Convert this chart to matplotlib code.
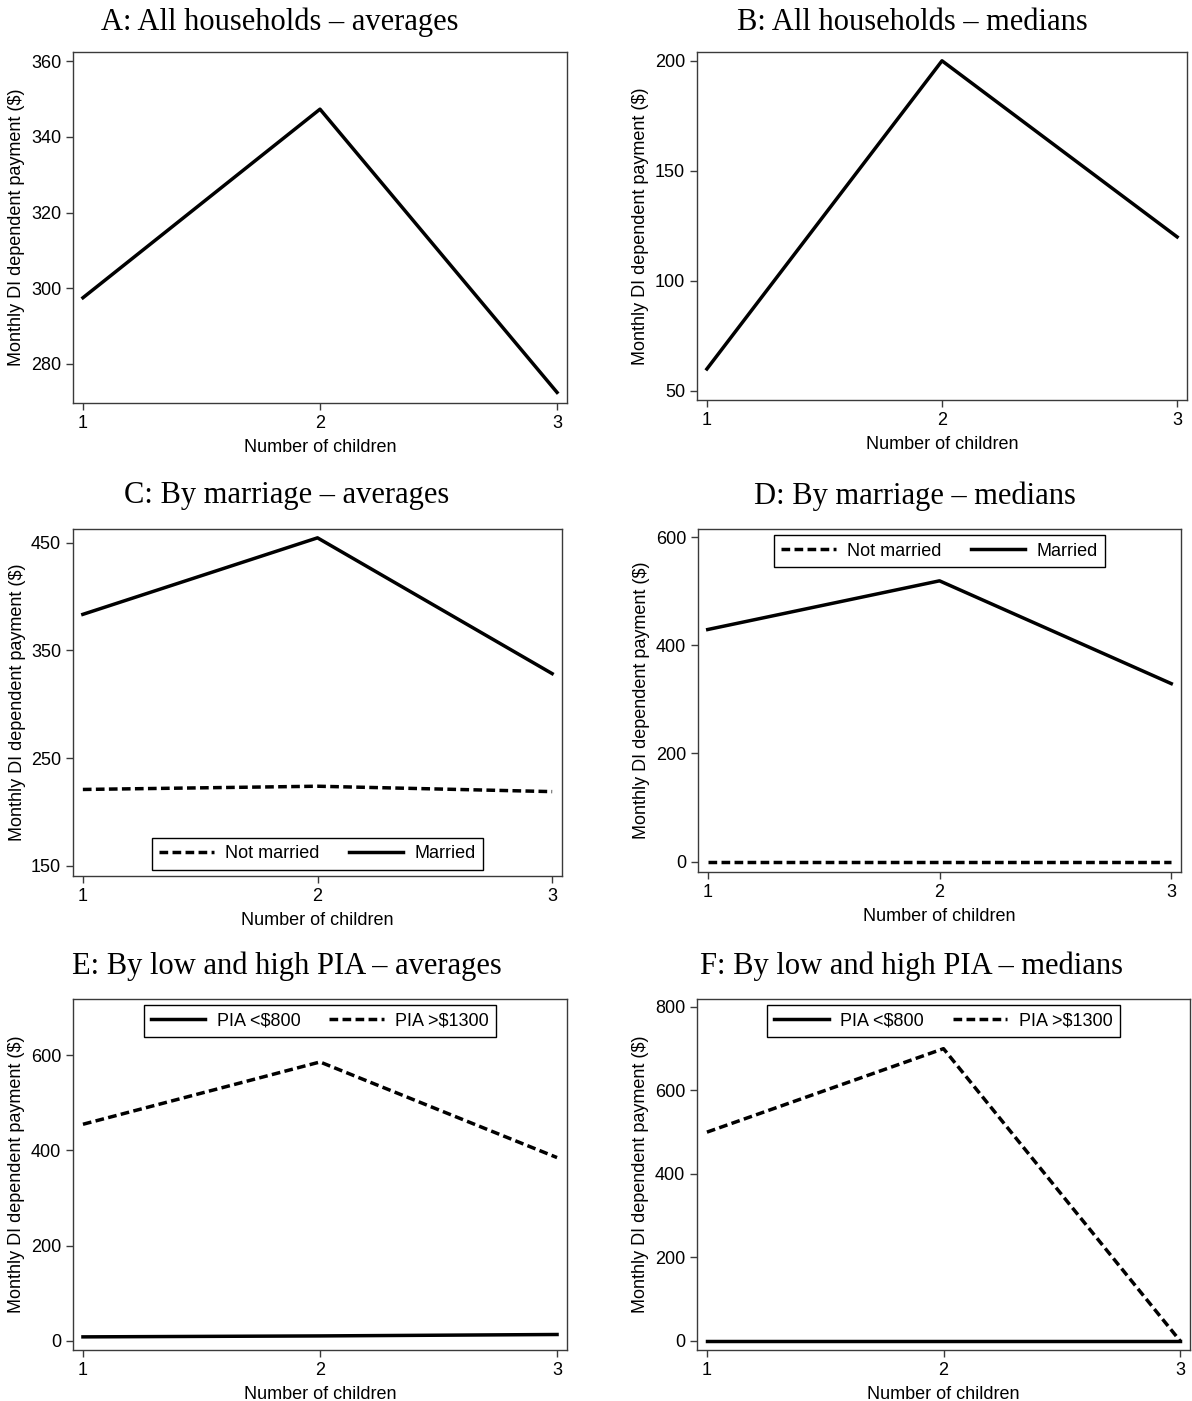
import matplotlib
matplotlib.use("Agg")
import matplotlib.pyplot as plt

children = [1, 2, 3]

all_avg = [297.5, 347.3, 272.5]
all_med = [60, 200, 120]

notmarried_avg = [221, 224, 219]
married_avg = [383.5, 454.5, 328.5]
notmarried_med = [0, 0, 0]
married_med = [429, 519, 329]

pia_low_avg = [8, 10, 13]
pia_high_avg = [455, 586, 385]
pia_low_med = [0, 0, 0]
pia_high_med = [500, 700, 0]

W, H = 1192, 1401
fig = plt.figure(figsize=(W / 100, H / 100), dpi=100)

SERIF = "Liberation Serif"
SANS = "Liberation Sans"
FS = 13
TFS = 22
LW = 2.5
DASH = (2.5, 1.25)
FRAME = "#3a3a3a"


def make_axes(left, right, top, bottom):
    ax = fig.add_axes([left / W, 1 - bottom / H, (right - left) / W, (bottom - top) / H])
    for s in ax.spines.values():
        s.set_color(FRAME)
        s.set_linewidth(1.0)
    ax.tick_params(direction="out", length=5, width=1, color=FRAME, labelsize=FS,
                   top=False, right=False)
    ax.set_xticks(children)
    ax.set_xticklabels([str(c) for c in children], fontfamily=SANS, fontsize=FS)
    ax.set_xlabel("Number of children", fontfamily=SANS, fontsize=FS, labelpad=5)
    ax.set_ylabel("Monthly DI dependent payment ($)", fontfamily=SANS, fontsize=FS, labelpad=4)
    ax.set_xlim(0.958, 3.042)
    return ax


def set_y(ax, lo, hi, ticks):
    ax.set_ylim(lo, hi)
    ax.set_yticks(ticks)
    ax.set_yticklabels([str(t) for t in ticks], fontfamily=SANS, fontsize=FS)


def legend(ax, loc):
    leg = ax.legend(loc=loc, ncol=2, frameon=True, fancybox=False, framealpha=1,
                    edgecolor="black", handlelength=3.0, columnspacing=1.6,
                    borderaxespad=0.35, borderpad=0.4, handletextpad=0.65,
                    prop={"family": SANS, "size": FS})
    leg.get_frame().set_linewidth(1.0)


def title(x, y, text):
    fig.text(x / W, 1 - y / H, text, family=SERIF, fontsize=TFS, ha="center", va="center")


# A
ax = make_axes(73, 567, 52, 403)
ax.plot(children, all_avg, color="black", lw=LW)
set_y(ax, 269.7, 362.4, [280, 300, 320, 340, 360])
title(280, 22, "A: All households – averages")

# B
ax = make_axes(697, 1187, 52, 400)
ax.plot(children, all_med, color="black", lw=LW)
set_y(ax, 45.9, 204, [50, 100, 150, 200])
title(912, 22, "B: All households – medians")

# C
ax = make_axes(73, 562, 529, 876)
ax.plot(children, notmarried_avg, color="black", lw=LW, dashes=DASH, label="Not married")
ax.plot(children, married_avg, color="black", lw=LW, label="Married")
set_y(ax, 140.7, 462.7, [150, 250, 350, 450])
legend(ax, "lower center")
title(287, 496, "C: By marriage – averages")

# D
ax = make_axes(698, 1181, 529, 872)
ax.plot(children, notmarried_med, color="black", lw=LW, dashes=DASH, label="Not married")
ax.plot(children, married_med, color="black", lw=LW, label="Married")
set_y(ax, -19.2, 614.8, [0, 200, 400, 600])
legend(ax, "upper center")
title(915, 496, "D: By marriage – medians")

# E
ax = make_axes(73, 567, 999, 1350)
ax.plot(children, pia_low_avg, color="black", lw=LW, label="PIA <$800")
ax.plot(children, pia_high_avg, color="black", lw=LW, dashes=DASH, label="PIA >$1300")
set_y(ax, -19.6, 718.4, [0, 200, 400, 600])
legend(ax, "upper center")
title(287, 966, "E: By low and high PIA – averages")

# F
ax = make_axes(697, 1190, 999, 1350)
ax.plot(children, pia_low_med, color="black", lw=LW, label="PIA <$800")
ax.plot(children, pia_high_med, color="black", lw=LW, dashes=DASH, label="PIA >$1300")
set_y(ax, -22, 819, [0, 200, 400, 600, 800])
legend(ax, "upper center")
title(912, 966, "F: By low and high PIA – medians")

fig.savefig("out.png", dpi=100, facecolor="white")
